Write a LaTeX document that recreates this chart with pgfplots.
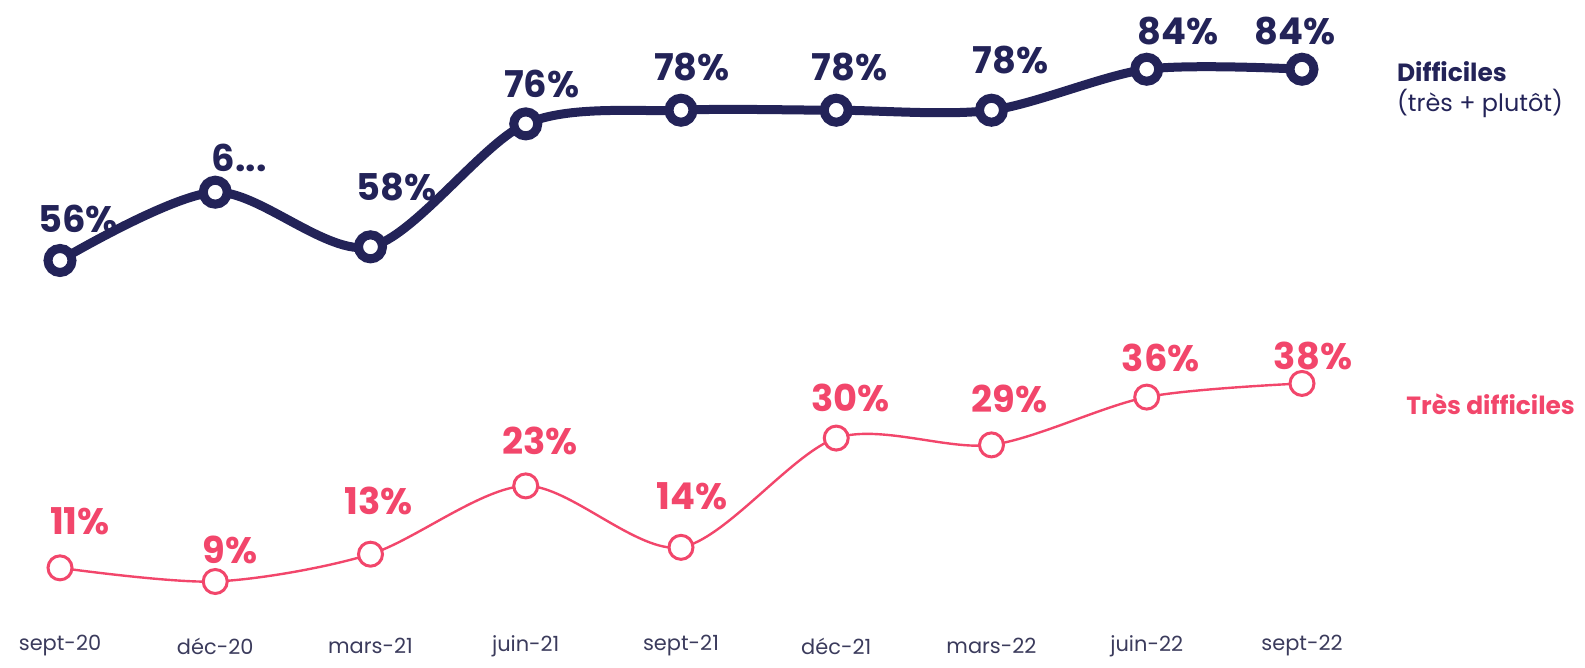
\documentclass[border=0pt]{standalone}
\usepackage{pgfplots}
\pgfplotsset{compat=1.18}
\usepackage{pgfplotstable}
\usepackage{fontspec}
\setmainfont{Poppins}
\definecolor{navy}{HTML}{232358}
\definecolor{pinkc}{HTML}{F2466B}
\definecolor{tickc}{HTML}{3B3B5C}

\pgfplotstableread{
x y dx dy lab
0 56 9 21 56\%
1 66 12 17 6...
2 58 13 30 58\%
3 76 8 20 76\%
4 78 5.5 21.5 78\%
5 78 6.5 21.5 78\%
6 78 9.5 25 78\%
7 84 15.5 19 84\%
8 84 -3.5 19 84\%
}\topdata

\pgfplotstableread{
x y dx dy lab
0 11 10 23.5 11\%
1 9 7.5 16 9\%
2 13 4 26.5 13\%
3 23 7 22.5 23\%
4 14 5.5 25.5 14\%
5 30 7 20 30\%
6 29 9 23 29\%
7 36 7 19.5 36\%
8 38 5.5 13.5 38\%
}\botdata

\begin{document}
\begin{tikzpicture}
\begin{axis}[
  scale only axis, width=792.5bp, height=334bp,
  xmin=-0.3865, xmax=9.823, ymin=-3.66, ymax=94.14,
  axis line style={draw=none}, tick style={draw=none},
  ytick=\empty, xtick={0,...,8},
  xticklabels={sept-20,déc-20,mars-21,juin-21,sept-21,déc-21,mars-22,juin-22,sept-22},
  xticklabel style={anchor=center, yshift=11bp, font=\fontsize{10.5}{10.5}\selectfont, text=tickc},
  clip=false,
  point meta=explicit symbolic,
  visualization depends on={\thisrow{dx} \as \dx},
  visualization depends on={\thisrow{dy} \as \dy},
]
\addplot[navy, line width=4.5bp, smooth, mark=*, mark size=6bp,
  mark options={fill=white, draw=navy, line width=4.5bp},
  nodes near coords,
  every node near coord/.append style={anchor=center, xshift=\dx bp, yshift=\dy bp,
    font=\fontsize{18.5}{18.5}\selectfont\bfseries, text=navy}]
  table[x=x, y=y, meta=lab]{\topdata};
\addplot[pinkc, line width=1.2bp, smooth, mark=*, mark size=6bp,
  mark options={fill=white, draw=pinkc, line width=1.5bp},
  nodes near coords,
  every node near coord/.append style={anchor=center, xshift=\dx bp, yshift=\dy bp,
    font=\fontsize{18.5}{18.5}\selectfont\bfseries, text=pinkc}]
  table[x=x, y=y, meta=lab]{\botdata};
\node[anchor=west, inner sep=0pt, text=navy, font=\fontsize{12.5}{12.5}\selectfont\bfseries] at (axis cs:8.61,83.6) {Difficiles};
\node[anchor=west, inner sep=0pt, text=navy, font=\fontsize{12}{12}\selectfont] at (axis cs:8.61,79.0) {(très + plutôt)};
\node[anchor=west, inner sep=0pt, text=pinkc, font=\fontsize{12.5}{12.5}\selectfont\bfseries] at (axis cs:8.67,35.0) {Très difficiles};
\end{axis}
\pgfresetboundingbox
\path[use as bounding box] (current axis.south west) rectangle (current axis.north east);
\end{tikzpicture}
\end{document}
